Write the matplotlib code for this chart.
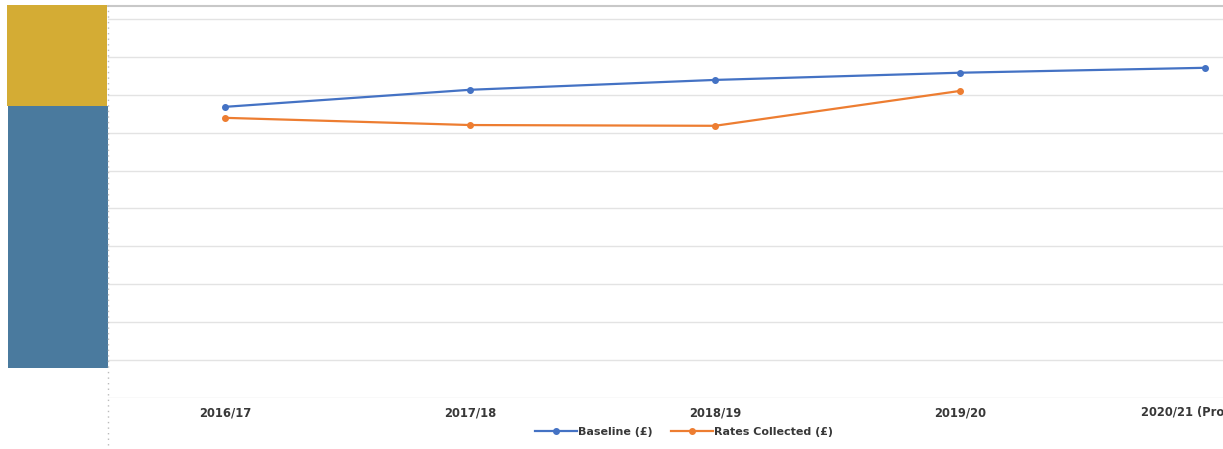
import matplotlib.pyplot as plt
from matplotlib.patches import Rectangle
from matplotlib.lines import Line2D

# values (gridline units, y-axis labels are hidden)
YEARS = ["2016/17", "2017/18", "2018/19", "2019/20", "2020/21 (Projected)"]
BASELINE = [7.68, 8.13, 8.39, 8.58, 8.71]
RATES_COLLECTED = [7.39, 7.20, 7.18, 8.10]

BLUE = "#4472C4"
ORANGE = "#ED7D31"
TEXT = "#383838"
W, H = 1223, 449

fig = plt.figure(figsize=(W / 100, H / 100), dpi=100)
ax = fig.add_axes([108 / W, (H - 398) / H, (W - 108) / W, (398 - 6) / H])

x_base = list(range(len(BASELINE)))
x_rates = list(range(len(RATES_COLLECTED)))
ax.plot(x_base, BASELINE, color=BLUE, lw=1.6, marker="o", ms=4, label="Baseline (£)")
ax.plot(x_rates, RATES_COLLECTED, color=ORANGE, lw=1.6, marker="o", ms=4,
        label="Rates Collected (£)")

ax.set_xlim(-117 / 245, (W - 225) / 245)
ax.set_ylim(0, 10.34)
ax.set_yticks(range(0, 11))
ax.set_yticklabels([])
ax.set_xticks(x_base)
ax.set_xticklabels(YEARS, fontsize=8.3, fontweight="bold", color=TEXT,
                   family="DejaVu Sans")
ax.tick_params(length=0, pad=6)
ax.grid(axis="y", color="#E3E3E3", lw=1.0)
ax.set_axisbelow(True)
for side in ("left", "right", "bottom"):
    ax.spines[side].set_visible(False)
ax.spines["top"].set_color("#C8C8C8")
ax.spines["top"].set_linewidth(1.5)

# dotted left axis line, runs below the plot area
fig.add_artist(Line2D([108 / W, 108 / W], [(H - 445) / H, (H - 5) / H],
                      color="#BBBBBB", lw=1.0, ls=(0, (1, 3))))

# coloured blocks covering the y-axis labels
fig.add_artist(Rectangle((7 / W, (H - 106) / H), 100 / W, 101 / H,
                         color="#D4AC34", lw=0))
fig.add_artist(Rectangle((8 / W, (H - 368) / H), 100 / W, 262 / H,
                         color="#4A7A9E", lw=0))

fig.legend(loc="center", bbox_to_anchor=(684 / W, (H - 432) / H), ncol=2,
           frameon=False, handlelength=3.8, columnspacing=1.6, handletextpad=0.1,
           prop={"size": 8, "weight": "bold", "family": "DejaVu Sans"},
           labelcolor=TEXT)

fig.savefig("out.png", dpi=100)
